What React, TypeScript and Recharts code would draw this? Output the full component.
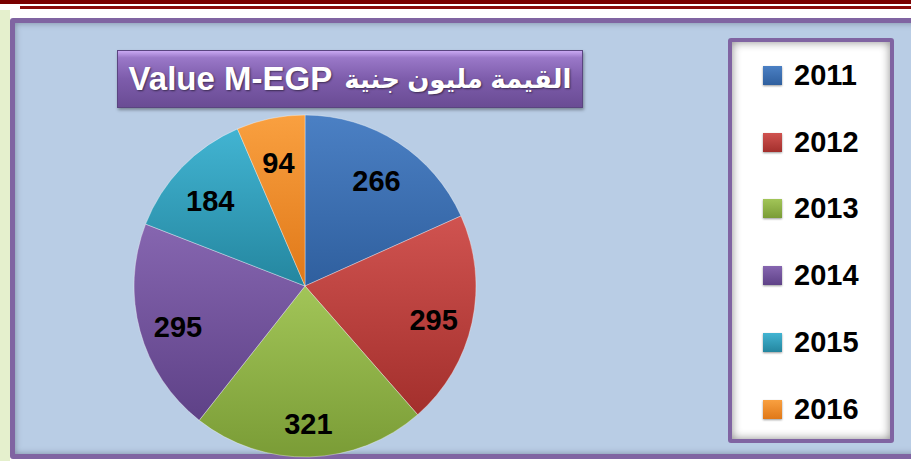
import { PieChart, Pie, Cell, Legend } from 'recharts'

const years = ['2011', '2012', '2013', '2014', '2015', '2016']
const values = [266, 295, 321, 295, 184, 94]
const topColors = ['#4b80c4', '#d05350', '#a2c558', '#8666b0', '#42b4d2', '#f9a040']
const bottomColors = ['#2f5f9e', '#a32f2c', '#7a9c36', '#5e4187', '#24869f', '#e07818']

const titleLatin = 'Value M-EGP'
const titleArabic = 'القيمة مليون جنية'

const data = years.map((y, i) => ({ name: y, value: values[i] }))

const RADIAN = Math.PI / 180
const font = '"Liberation Sans", "DejaVu Sans", sans-serif'

const renderLabel = (props: any) => {
  const { cx, cy, midAngle, outerRadius, value } = props
  const r = outerRadius * 0.77
  const x = cx + r * Math.cos(-midAngle * RADIAN)
  const y = cy + r * Math.sin(-midAngle * RADIAN) + 6
  return (
    <text
      x={x}
      y={y}
      textAnchor="middle"
      dominantBaseline="central"
      fill="#000"
      fontSize={29}
      fontWeight="bold"
      fontFamily={font}
    >
      {value}
    </text>
  )
}

const LegendBox = (props: any) => {
  const payload = props.payload && props.payload.length ? props.payload : []
  return (
    <div
      style={{
        width: 166,
        height: 405,
        boxSizing: 'border-box',
        border: '4px solid #8064a2',
        borderRadius: 3,
        background: '#fff',
        boxShadow: 'inset 0 0 10px rgba(0,0,0,0.45)'
      }}
    >
      {years.map((y, i) => (
        <div
          key={y}
          style={{ display: 'flex', alignItems: 'center', height: 66.8, marginLeft: 31 }}
        >
          <div
            style={{
              width: 19,
              height: 19,
              background: `linear-gradient(${topColors[i]}, ${bottomColors[i]})`,
              boxShadow: '0 1px 2px rgba(0,0,0,0.4)',
              marginRight: 12
            }}
          />
          <span style={{ fontFamily: font, fontWeight: 'bold', fontSize: 29, color: '#000' }}>
            {payload[i] ? payload[i].value : y}
          </span>
        </div>
      ))}
    </div>
  )
}

export default function App() {
  return (
    <div
      style={{
        position: 'fixed',
        left: 0,
        top: 0,
        width: 911,
        height: 461,
        overflow: 'hidden',
        background: '#fff'
      }}
    >
      {/* header stripes */}
      <div style={{ position: 'absolute', left: 0, top: 0, width: 911, height: 4, background: '#7a0000' }} />
      <div style={{ position: 'absolute', left: 20, top: 6, width: 891, height: 3, background: '#8b0a0a' }} />
      <div style={{ position: 'absolute', left: 0, top: 10, width: 10, height: 451, background: '#e5f0cd' }} />

      {/* panel */}
      <div
        style={{
          position: 'absolute',
          left: 10,
          top: 18,
          width: 920,
          height: 431,
          border: '5px solid #8064a2',
          borderRadius: 3,
          background: '#b9cde5',
          boxShadow: 'inset 0 0 6px rgba(60,70,90,0.5)'
        }}
      />

      {/* title */}
      <div
        style={{
          position: 'absolute',
          left: 117,
          top: 50,
          width: 466,
          height: 58,
          boxSizing: 'border-box',
          border: '1px solid #5a4580',
          background: 'linear-gradient(#c9a8f2 0%, #9a78c8 12%, #7d5cab 50%, #6a4c94 100%)',
          boxShadow: '1px 2px 3px rgba(0,0,0,0.35)',
          color: '#fff',
          fontFamily: font,
          fontWeight: 'bold',
          display: 'flex',
          alignItems: 'center',
          justifyContent: 'center',
          gap: 12,
          whiteSpace: 'nowrap',
          textShadow: '1px 1px 2px rgba(0,0,0,0.5)',
          zIndex: 2
        }}
      >
        <span style={{ fontSize: 33 }}>{titleLatin}</span>
        <span style={{ fontSize: 26, direction: 'rtl' }}>{titleArabic}</span>
      </div>

      <div style={{ position: 'absolute', left: 0, top: 0, zIndex: 1 }}>
        <PieChart width={911} height={461} margin={{ top: 0, right: 0, bottom: 0, left: 0 }}>
          <defs>
            {years.map((y, i) => (
              <linearGradient key={y} id={`g${i}`} x1="0" y1="0" x2="0" y2="1">
                <stop offset="0%" stopColor={topColors[i]} />
                <stop offset="100%" stopColor={bottomColors[i]} />
              </linearGradient>
            ))}
          </defs>
          <Pie
            data={data}
            dataKey="value"
            nameKey="name"
            cx={305}
            cy={286}
            outerRadius={171}
            startAngle={90}
            endAngle={-270}
            stroke="rgba(255,255,255,0.35)"
            strokeWidth={1}
            label={renderLabel}
            labelLine={false}
            isAnimationActive={false}
          >
            {data.map((d, i) => (
              <Cell key={d.name} fill={`url(#g${i})`} />
            ))}
          </Pie>
          <Legend
            content={<LegendBox />}
            wrapperStyle={{ position: 'absolute', left: 728, top: 38, width: 166, height: 405 }}
          />
        </PieChart>
      </div>
    </div>
  )
}
